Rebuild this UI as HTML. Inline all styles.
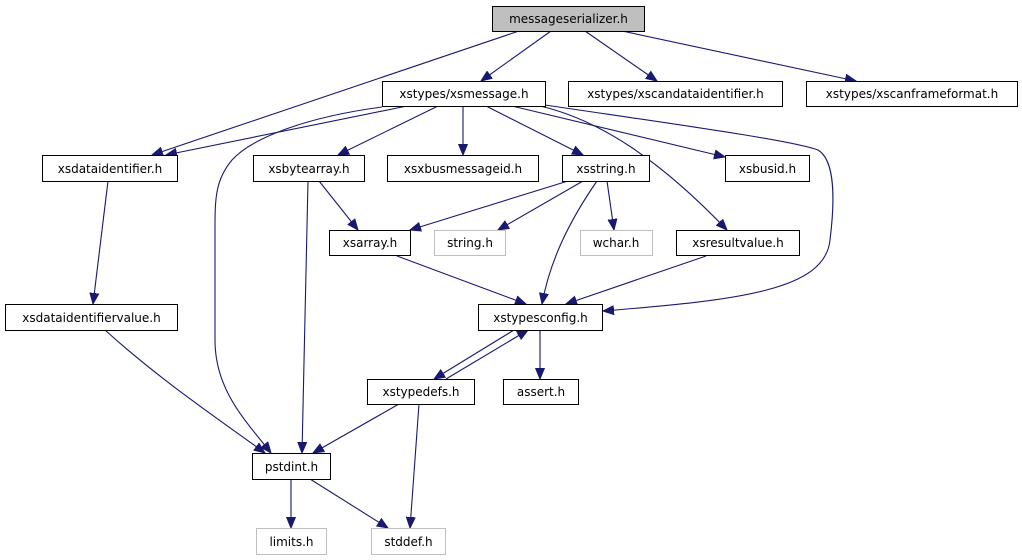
<!DOCTYPE html>
<html><head><meta charset="utf-8"><style>
html,body{margin:0;padding:0;background:#fff;}
svg{display:block;}
text{font-family:"DejaVu Sans","Liberation Sans",sans-serif;font-size:12px;fill:#000;}
</style></head><body>
<svg width="1022" height="560" viewBox="0 0 1022 560" xmlns="http://www.w3.org/2000/svg">
<defs>
<marker id="a" markerUnits="userSpaceOnUse" markerWidth="12" markerHeight="10" refX="11" refY="5" orient="auto">
<path d="M0,0.5 L11,5 L0,9.5 Z" fill="#191970" stroke="#191970"/>
</marker>
</defs>
<g fill="none" stroke="#191970" stroke-width="1.1" marker-end="url(#a)">
<path d="M519,31 L152,155"/>
<path d="M551,31 L481,81"/>
<path d="M585,31 L657,81"/>
<path d="M622,31 L856,81"/>
<path d="M407,106 L166,155"/>
<path d="M382,107 C300,118 250,140 232,160 C215,180 215,200 215,230 L215,340 C215,390 245,420 271,453"/>
<path d="M438,106 L338,155"/>
<path d="M463,106 L463,155"/>
<path d="M486,106 L583,155"/>
<path d="M512,106 L725,157"/>
<path d="M540,106 C600,120 660,160 727,230"/>
<path d="M545,105 C680,125 790,140 818,150 C835,160 835,200 830,240 C825,290 740,300 603,311"/>
<path d="M108,181 L93,304"/>
<path d="M308,181 L302,453"/>
<path d="M319,181 L358,230"/>
<path d="M568,181 L410,230"/>
<path d="M583,181 L498,230"/>
<path d="M597,181 C570,220 550,260 542,304"/>
<path d="M607,181 L614,230"/>
<path d="M397,256 L526,304"/>
<path d="M706,256 L566,304"/>
<path d="M105,330 C160,380 220,420 265,453"/>
<path d="M514,330 L434,379"/>
<path d="M446,379 L528,330"/>
<path d="M540,330 L540,379"/>
<path d="M399,404 L313,453"/>
<path d="M419,404 L410,528"/>
<path d="M291,479 L291,528"/>
<path d="M310,479 L388,528"/>
</g>
<g stroke-width="1">
<rect x="492.5" y="6.5" width="152" height="25" fill="#bfbfbf" stroke="#000"/>
<rect x="382.5" y="81.5" width="163" height="25" fill="#fff" stroke="#000"/>
<rect x="568.5" y="81.5" width="214" height="25" fill="#fff" stroke="#000"/>
<rect x="806.5" y="81.5" width="211" height="25" fill="#fff" stroke="#000"/>
<rect x="42.5" y="155.5" width="135" height="26" fill="#fff" stroke="#000"/>
<rect x="253.5" y="155.5" width="111" height="26" fill="#fff" stroke="#000"/>
<rect x="387.5" y="155.5" width="151" height="26" fill="#fff" stroke="#000"/>
<rect x="562.5" y="155.5" width="87" height="26" fill="#fff" stroke="#000"/>
<rect x="725.5" y="155.5" width="84" height="26" fill="#fff" stroke="#000"/>
<rect x="329.5" y="230.5" width="81" height="25" fill="#fff" stroke="#000"/>
<rect x="434.5" y="230.5" width="71" height="25" fill="#fff" stroke="#bfbfbf"/>
<rect x="580.5" y="230.5" width="72" height="25" fill="#fff" stroke="#bfbfbf"/>
<rect x="676.5" y="230.5" width="123" height="25" fill="#fff" stroke="#000"/>
<rect x="5.5" y="304.5" width="172" height="26" fill="#fff" stroke="#000"/>
<rect x="478.5" y="304.5" width="124" height="26" fill="#fff" stroke="#000"/>
<rect x="367.5" y="379.5" width="107" height="25" fill="#fff" stroke="#000"/>
<rect x="503.5" y="379.5" width="75" height="25" fill="#fff" stroke="#000"/>
<rect x="252.5" y="453.5" width="78" height="26" fill="#fff" stroke="#000"/>
<rect x="256.5" y="528.5" width="70" height="26" fill="#fff" stroke="#bfbfbf"/>
<rect x="371.5" y="528.5" width="74" height="26" fill="#fff" stroke="#bfbfbf"/>
</g>
<g text-anchor="middle">
<text x="568.5" y="23">messageserializer.h</text>
<text x="464" y="98">xstypes/xsmessage.h</text>
<text x="675.5" y="98">xstypes/xscandataidentifier.h</text>
<text x="912" y="98">xstypes/xscanframeformat.h</text>
<text x="110" y="173">xsdataidentifier.h</text>
<text x="309" y="173">xsbytearray.h</text>
<text x="463" y="173">xsxbusmessageid.h</text>
<text x="606" y="173">xsstring.h</text>
<text x="767.5" y="173">xsbusid.h</text>
<text x="370" y="247">xsarray.h</text>
<text x="470" y="247">string.h</text>
<text x="616" y="247">wchar.h</text>
<text x="738" y="247">xsresultvalue.h</text>
<text x="91.5" y="322">xsdataidentifiervalue.h</text>
<text x="540.5" y="322">xstypesconfig.h</text>
<text x="421" y="396">xstypedefs.h</text>
<text x="541" y="396">assert.h</text>
<text x="291.5" y="471">pstdint.h</text>
<text x="291.5" y="546">limits.h</text>
<text x="408.5" y="546">stddef.h</text>
</g>
</svg>
</body></html>
